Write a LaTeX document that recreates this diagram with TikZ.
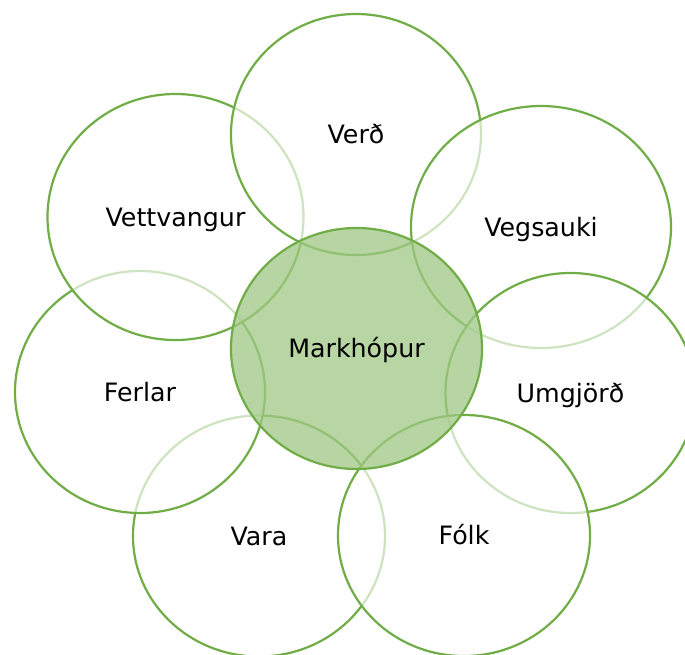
\documentclass[tikz,border=0pt]{standalone}
\usepackage{fontspec}
\setmainfont{DejaVu Sans}
\usetikzlibrary{shapes.geometric}
\definecolor{leafgreen}{RGB}{112,173,71}
\definecolor{corefill}{RGB}{159,200,132}
\tikzset{
  petal/.style={ellipse, draw=leafgreen, line width=2.2pt, fill=white,
                fill opacity=0.66, text opacity=1, inner sep=0pt,
                text height=18.5pt, text depth=0pt,
                font=\fontsize{25.3}{30}\selectfont},
  core/.style={petal, fill=corefill, fill opacity=0.75}
}

\begin{document}
\begin{tikzpicture}[x=1pt, y=-1pt]

	\useasboundingbox (0,0) rectangle (685,654);

	% outer ring, drawn in stacking order
	\node[petal, minimum width=252pt, minimum height=241pt] (vara) at (259,536) {Vara};
	\node[petal, minimum width=250pt, minimum height=242pt] (ferlar) at (140,392) {Ferlar};
	\node[petal, minimum width=256pt, minimum height=246pt] (vettvangur) at (175.5,217) {Vettvangur};
	\node[petal, minimum width=250pt, minimum height=241pt] (verd) at (356,134.5) {Verð};
	\node[petal, minimum width=260pt, minimum height=242pt] (vegsauki) at (541,227) {Vegsauki};
	\node[petal, minimum width=250pt, minimum height=240pt] (umgjord) at (570.5,393) {Umgjörð};
	\node[petal, minimum width=252pt, minimum height=241pt] (folk) at (464,535.5) {Fólk};

	% centre
	\node[core, minimum width=251pt, minimum height=241pt] (markhopur) at (356.5,348.5) {Markhópur};

\end{tikzpicture}
\end{document}
